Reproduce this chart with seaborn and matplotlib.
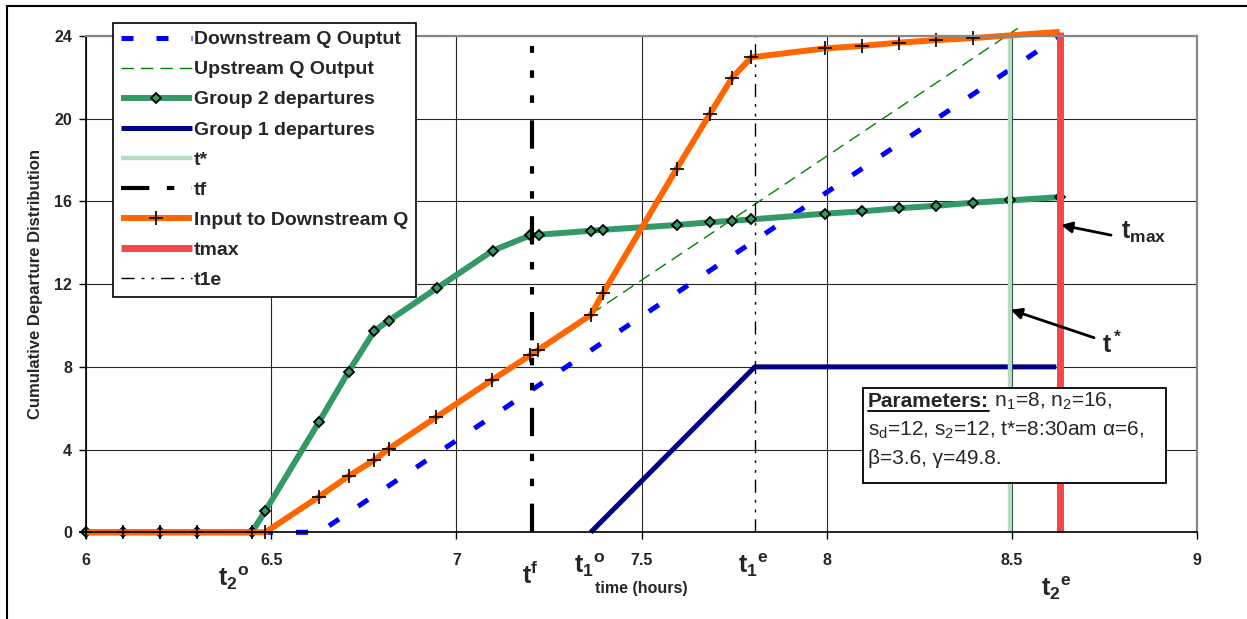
import numpy as np
import pandas as pd
import seaborn as sns
import matplotlib.pyplot as plt
from matplotlib.lines import Line2D
from matplotlib.patches import Rectangle

# =========================
# DATA
# =========================

# Group 2 departures (green, diamonds)
g2_time = [6.0, 6.1, 6.2, 6.3, 6.448, 6.484, 6.629, 6.709, 6.779, 6.817, 6.947,
           7.098, 7.2, 7.222, 7.363, 7.397, 7.595, 7.684, 7.745, 7.797, 7.995,
           8.096, 8.195, 8.296, 8.395, 8.496, 8.629]
g2_dep = [0, 0, 0, 0, 0, 1.03, 5.33, 7.77, 9.75, 10.23, 11.8,
          13.62, 14.36, 14.39, 14.58, 14.63, 14.86, 14.99, 15.07, 15.13, 15.41,
          15.52, 15.67, 15.79, 15.94, 16.05, 16.21]

# Input to downstream queue (orange, crosses)
inp_time = [6.0, 6.1, 6.2, 6.3, 6.448, 6.484, 6.629, 6.709, 6.779, 6.817, 6.945,
            7.096, 7.2, 7.221, 7.363, 7.397, 7.595, 7.684, 7.745, 7.797, 7.995,
            8.096, 8.195, 8.296, 8.395, 8.629]
inp_q = [0, 0, 0, 0, 0, 0, 1.72, 2.72, 3.5, 4.03, 5.56,
         7.36, 8.57, 8.82, 10.51, 11.59, 17.58, 20.21, 21.99, 22.97, 23.4,
         23.52, 23.68, 23.8, 23.9, 24.2]

# Downstream Q output (blue dashed)
ds_time = [6.0, 6.63, 8.63]
ds_q = [0, 0, 24]

# Upstream Q output (thin green dashed)
us_time = [7.363, 8.516]
us_q = [10.55, 24.37]

# Group 1 departures (navy)
g1_time = [7.363, 7.806, 8.62]
g1_dep = [0, 8, 8]

# vertical markers
tstar_x, tstar_top = 8.496, 23.9
tf_x, tf_top = 7.205, 23.5
tmax_x, tmax_top = 8.629, 24.2
t1e_x, t1e_top = 7.806, 24.0

x_ticks = [6, 6.5, 7, 7.5, 8, 8.5, 9]
x_tick_labels = ["6", "6.5", "7", "7.5", "8", "8.5", "9"]
y_ticks = [0, 4, 8, 12, 16, 20, 24]

# =========================
# STYLE
# =========================

sns.set_theme(style="white")
plt.rcParams["font.family"] = ["Liberation Sans", "DejaVu Sans"]
plt.rcParams["mathtext.fontset"] = "custom"
plt.rcParams["mathtext.rm"] = "Liberation Sans"
plt.rcParams["mathtext.it"] = "Liberation Sans"
plt.rcParams["mathtext.bf"] = "Liberation Sans:bold"

W, H = 1247, 619


def fx(p):
    return p / W


def fy(p):
    return 1 - p / H


fig = plt.figure(figsize=(W / 100, H / 100), dpi=100)
ax = fig.add_axes([fx(86), fy(532.3), fx(1197) - fx(86), fy(36) - fy(532.3)])

common = dict(ax=ax, estimator=None, sort=False)

sns.lineplot(x=ds_time, y=ds_q, color="#0000ff", lw=3.6,
             linestyle=(0, (2.4, 4.6)), label="Downstream Q Ouptut", **common)
sns.lineplot(x=us_time, y=us_q, color="#008000", lw=1.0,
             linestyle=(0, (9, 5)), label="Upstream Q Output", **common)
sns.lineplot(x=g2_time, y=g2_dep, color="#339966", lw=4.3, marker="D",
             markersize=5.5, markerfacecolor="#339966", markeredgecolor="black",
             markeredgewidth=1.3, label="Group 2 departures", **common)
sns.lineplot(x=g1_time, y=g1_dep, color="#000080", lw=3.6,
             label="Group 1 departures", **common)
sns.lineplot(x=[tstar_x, tstar_x], y=[0, tstar_top], color="#b3dcc0", lw=3.2,
             label="t*", **common)
sns.lineplot(x=[tf_x, tf_x], y=[0, tf_top], color="black", lw=3.0,
             linestyle=(0, (6.8, 4.2, 1.8, 4.2, 1.8, 4.2)), label="tf", **common)
sns.lineplot(x=inp_time, y=inp_q, color="#ff6600", lw=4.3, marker="+",
             markersize=10, markeredgecolor="black", markeredgewidth=1.2,
             markevery=list(range(len(inp_time) - 1)),
             label="Input to Downstream Q", **common)
sns.lineplot(x=[tmax_x, tmax_x], y=[0, tmax_top], color="#f34848", lw=5,
             label="tmax", **common)
sns.lineplot(x=[t1e_x, t1e_x], y=[0, t1e_top], color="black", lw=1.0,
             linestyle=(0, (9.5, 5, 2, 5, 2, 5)), label="t1e", **common)

for ln in ax.lines:
    ln.set_clip_on(False)
    ln.set_solid_capstyle("butt")
    ln.set_dash_capstyle("butt")

# axes
ax.set_xlim(6, 9)
ax.set_ylim(0, 24)
ax.set_xticks(x_ticks, labels=x_tick_labels, fontweight="bold", fontsize=11.5)
ax.set_yticks(y_ticks, labels=[str(v) for v in y_ticks], fontweight="bold", fontsize=11.5)
ax.tick_params(axis="x", direction="out", length=5, width=1, color="black", pad=10, bottom=True)
ax.tick_params(axis="y", direction="out", length=5, width=1, color="black", pad=5, left=True)
ax.grid(True, color="#262626", lw=0.8)
ax.set_axisbelow(True)
for side in ["left", "bottom"]:
    ax.spines[side].set_color("black")
    ax.spines[side].set_linewidth(1.2)
for side in ["top", "right"]:
    ax.spines[side].set_color("#888888")
    ax.spines[side].set_linewidth(1.6)

ax.set_ylabel("Cumulative Departure Distribution", fontsize=12, fontweight="bold")
ax.yaxis.set_label_coords(-0.0387, 0.5)
ax.set_xlabel("time (hours)", fontsize=11.5, fontweight="bold")
ax.xaxis.set_label_coords(0.5, -0.098)

# legend
leg = ax.legend(loc="upper left", bbox_to_anchor=(fx(113), fy(23)),
                bbox_transform=fig.transFigure, borderaxespad=0,
                prop={"family": "Liberation Sans", "weight": "bold", "size": 14},
                handlelength=3.65, handletextpad=0.12, labelspacing=0.64,
                borderpad=0.4, frameon=True, fancybox=False,
                edgecolor="black", framealpha=1)
leg.get_frame().set_linewidth(1.2)
leg.set_zorder(10)

# time markers under the axis
trans = ax.get_xaxis_transform()
big = dict(fontsize=18, ha="center", va="center", transform=trans)
ax.text(6.398, -0.092, r"$\mathbf{{t_2}^o}$", **big)
ax.text(7.2, -0.086, r"$\mathbf{t^f}$", **big)
ax.text(7.361, -0.066, r"$\mathbf{{t_1}^o}$", **big)
ax.text(7.801, -0.066, r"$\mathbf{{t_1}^e}$", **big)
ax.text(8.621, -0.112, r"$\mathbf{{t_2}^e}$", **big)

# arrows for tmax and t*
arrow = dict(arrowstyle="-|>", color="black", lw=2, mutation_scale=16, shrinkA=0, shrinkB=0)
ax.annotate("", xy=(8.633, 14.86), xytext=(8.768, 14.37), arrowprops=arrow, annotation_clip=False)
ax.annotate("", xy=(8.497, 10.76), xytext=(8.722, 9.41), arrowprops=arrow, annotation_clip=False)
ax.text(8.795, 14.52, r"$\mathbf{t_{max}}$", fontsize=18, ha="left", va="center")
ax.text(8.744, 8.67, r"$\mathbf{t^*}$", fontsize=18, ha="left", va="baseline")

# parameters box
fig.add_artist(Rectangle((fx(863), fy(483)), fx(1166) - fx(863), fy(388) - fy(483),
                         transform=fig.transFigure, facecolor="white",
                         edgecolor="black", lw=1.3, zorder=5))
t0 = fig.text(fx(868), fy(407), "Parameters:", fontsize=15, fontweight="bold",
              va="baseline", zorder=6)
fig.canvas.draw()
bb = t0.get_window_extent()
fig.text(bb.x1 / W, fy(407), " n$_1$=8, n$_2$=16,", fontsize=15, va="baseline", zorder=6)
fig.add_artist(Line2D([bb.x0 / W, bb.x1 / W], [fy(410.5)] * 2, transform=fig.transFigure,
                      color="black", lw=1.3, zorder=6))
fig.text(fx(868), fy(436), "s$_d$=12, s$_2$=12, t*=8:30am α=6,", fontsize=15,
         va="baseline", zorder=6)
fig.text(fx(868), fy(464), "β=3.6, γ=49.8.", fontsize=15, va="baseline", zorder=6)

# outer frame (left and top edges)
fig.add_artist(Line2D([fx(7), fx(7)], [0, fy(6)], transform=fig.transFigure, color="black", lw=1.5))
fig.add_artist(Line2D([fx(7), 1], [fy(6), fy(6)], transform=fig.transFigure, color="black", lw=1.5))

fig.savefig("out.png", dpi=100)
